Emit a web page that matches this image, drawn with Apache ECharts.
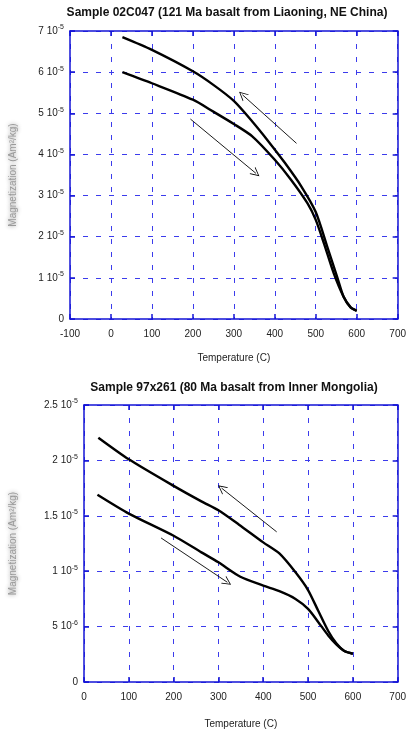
<!DOCTYPE html>
<html>
<head>
<meta charset="utf-8">
<script src="https://cdn.jsdelivr.net/npm/echarts@6/dist/echarts.min.js"></script>
<style>
html, body { margin: 0; padding: 0; background: #fff; }
#main { width: 409px; height: 733px; }
</style>
</head>
<body>
<div id="main"></div>
<script>
// magnetization values in units of 1e-5 Am2/kg, temperature in C
// sample 02C047
const topCoolT = [28, 100, 200, 250, 300, 345, 385, 425, 465, 500, 528, 552, 568, 585, 600];
const topCoolM = [6.85, 6.54, 6.02, 5.69, 5.30, 4.80, 4.31, 3.79, 3.22, 2.60, 1.76, 1.03, 0.54, 0.29, 0.20];
const topHeatT = [28, 100, 200, 250, 300, 345, 400, 440, 480, 500, 520, 544, 568, 585, 600];
const topHeatM = [6.00, 5.73, 5.33, 5.04, 4.74, 4.44, 3.87, 3.38, 2.81, 2.41, 1.84, 1.11, 0.54, 0.28, 0.20];
// sample 97x261
const botCoolT = [32, 100, 200, 262, 300, 346, 400, 436, 472, 500, 523, 545, 563, 581, 600];
const botCoolM = [2.205, 2.01, 1.77, 1.63, 1.55, 1.42, 1.26, 1.16, 0.99, 0.83, 0.64, 0.46, 0.35, 0.28, 0.255];
const botHeatT = [30, 100, 200, 262, 300, 349, 400, 436, 472, 500, 523, 545, 563, 581, 600];
const botHeatM = [1.69, 1.52, 1.32, 1.17, 1.08, 0.95, 0.87, 0.82, 0.75, 0.66, 0.54, 0.42, 0.34, 0.28, 0.255];

// arrows [tail, head]
const topArrowCool = [[453, 4.27], [321, 5.45]];
const topArrowHeat = [[194, 4.86], [354, 3.54]];
const botArrowCool = [[430, 1.355], [307, 1.75]];
const botArrowHeat = [[172, 1.30], [320, 0.90]];

// tick labels
const topYLabels = ['0', '1 10{s|-5}', '2 10{s|-5}', '3 10{s|-5}', '4 10{s|-5}', '5 10{s|-5}', '6 10{s|-5}', '7 10{s|-5}'];
const botYLabels = ['0', '5 10{s|-6}', '1 10{s|-5}', '1.5 10{s|-5}', '2 10{s|-5}', '2.5 10{s|-5}'];

const blue = '#1414d6';
const gridBlue = '#3c3cec';
const font = 'Liberation Sans, Arial, sans-serif';
const arrowHead = 'path://M0,10 L5,0 L10,10 L9,10 L5,2 L1,10 Z';

var myChart = echarts.init(document.getElementById('main'));

function pairs(ts, ms) {
    return ts.map((t, i) => [t, ms[i]]);
}

function xAxisPair(grid, min, max, gap) {
    return [
        {
            gridIndex: grid, type: 'value', min: min, max: max, interval: 100, position: 'bottom',
            name: 'Temperature (C)', nameLocation: 'middle', nameGap: gap,
            nameTextStyle: {fontSize: 10, color: '#222', fontFamily: font},
            axisLine: {onZero: false, lineStyle: {color: blue, width: 1.5}},
            axisTick: {inside: true, length: 5, lineStyle: {color: blue, width: 1.5}},
            axisLabel: {fontSize: 10, color: '#222', margin: 10, fontFamily: font, showMinLabel: true, showMaxLabel: true},
            splitLine: {show: true, lineStyle: {color: gridBlue, width: 1, type: [5, 8]}}
        },
        {
            gridIndex: grid, type: 'value', min: min, max: max, interval: 100, position: 'top',
            axisLine: {onZero: false, lineStyle: {color: blue, width: 1.5}},
            axisTick: {inside: true, length: 5, lineStyle: {color: blue, width: 1.5}},
            axisLabel: {show: false},
            splitLine: {show: false}
        }
    ];
}

function yAxisPair(grid, max, interval, labels, gap) {
    return [
        {
            gridIndex: grid, type: 'value', min: 0, max: max, interval: interval, position: 'left',
            name: 'Magnetization (Am\u00b2/kg)', nameLocation: 'middle', nameGap: gap, nameRotate: 90,
            nameTextStyle: {fontSize: 10, color: '#9a9a9a', fontFamily: font, textShadowColor: '#888', textShadowBlur: 4},
            axisLine: {onZero: false, lineStyle: {color: blue, width: 1.5}},
            axisTick: {inside: true, length: 5, lineStyle: {color: blue, width: 1.5}},
            axisLabel: {
                margin: 6, color: '#222', fontFamily: font,
                formatter: v => labels[Math.round(v / interval)],
                rich: {
                    s: {fontSize: 7, lineHeight: 8, verticalAlign: 'top', color: '#222', fontFamily: font}
                },
                fontSize: 10, lineHeight: 14
            },
            splitLine: {show: true, lineStyle: {color: gridBlue, width: 1, type: [5, 8]}}
        },
        {
            gridIndex: grid, type: 'value', min: 0, max: max, interval: interval, position: 'right',
            axisLine: {onZero: false, lineStyle: {color: blue, width: 1.5}},
            axisTick: {inside: true, length: 5, lineStyle: {color: blue, width: 1.5}},
            axisLabel: {show: false},
            splitLine: {show: false}
        }
    ];
}

function arrow(a) {
    return [{coord: a[0]}, {coord: a[1]}];
}

function curve(xi, ts, ms, arrows) {
    const s = {
        type: 'line', xAxisIndex: xi, yAxisIndex: xi,
        data: pairs(ts, ms), showSymbol: false, smooth: 0.25,
        lineStyle: {color: '#000', width: 2.4},
        silent: true
    };
    if (arrows) {
        s.markLine = {
            silent: true, symbol: ['none', arrowHead], symbolSize: 9,
            label: {show: false},
            lineStyle: {color: '#000', width: 0.9, type: 'solid'},
            emphasis: {disabled: true},
            data: arrows.map(arrow)
        };
    }
    return s;
}

const xTop = xAxisPair(0, -100, 700, 34);
const xBot = xAxisPair(1, 0, 700, 37);
const yTop = yAxisPair(0, 7, 1, topYLabels, 52);
const yBot = yAxisPair(1, 2.5, 0.5, botYLabels, 66);

myChart.setOption({
    animation: false,
    grid: [
        {left: 65, top: 31, width: 333, height: 288},
        {left: 81, top: 405, width: 320.5, height: 277}
    ],
    // xAxis order: 0 top-bottom, 1 bot-bottom, 2 top-top, 3 bot-top
    xAxis: [xTop[0], xBot[0], xTop[1], xBot[1]],
    yAxis: [yTop[0], yBot[0], yTop[1], yBot[1]],
    graphic: [
        {
            type: 'text', x: 227, y: 7,
            style: {text: 'Sample 02C047 (121 Ma basalt from Liaoning, NE China)', font: 'bold 12px ' + font, fill: '#111', align: 'center', verticalAlign: 'top'}
        },
        {
            type: 'text', x: 234, y: 382,
            style: {text: 'Sample 97x261 (80 Ma basalt from Inner Mongolia)', font: 'bold 12px ' + font, fill: '#111', align: 'center', verticalAlign: 'top'}
        }
    ],
    series: [
        curve(0, topCoolT, topCoolM, [topArrowCool, topArrowHeat]),
        curve(0, topHeatT, topHeatM),
        curve(1, botCoolT, botCoolM, [botArrowCool, botArrowHeat]),
        curve(1, botHeatT, botHeatM)
    ]
});
</script>
</body>
</html>
